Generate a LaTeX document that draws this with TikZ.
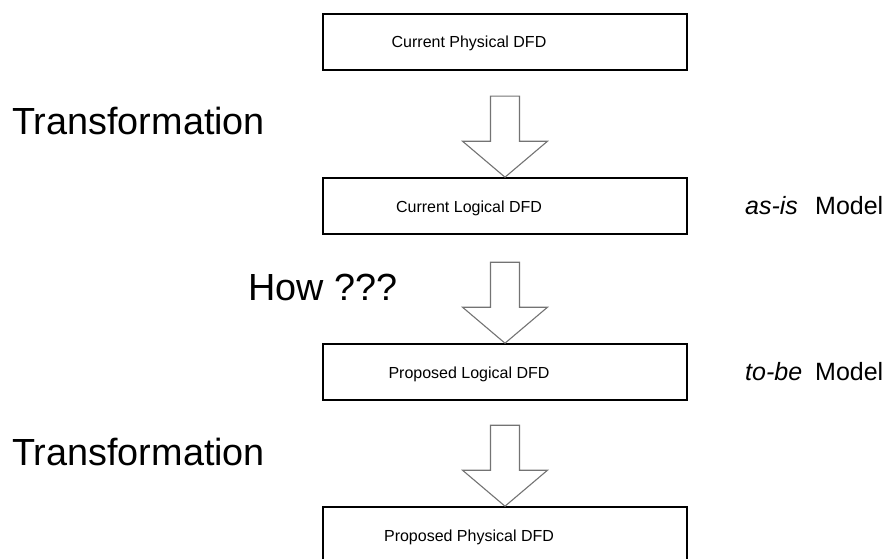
\documentclass[tikz,border=0pt]{standalone}
\usepackage{fontspec}
\setmainfont{Liberation Sans}
\begin{document}
\begin{tikzpicture}[x=1pt,y=-1pt,
  dfdbox/.style={draw=black, line width=1.6pt, minimum width=364pt, minimum height=56pt, inner sep=0pt},
  boxlabel/.style={anchor=base, inner sep=0pt, font=\fontsize{16}{19}\selectfont},
  sidelabel/.style={anchor=base west, inner sep=0pt, font=\fontsize{37.8}{44}\selectfont},
  modellabel/.style={anchor=base west, inner sep=0pt, font=\fontsize{25}{29}\selectfont},
  blockarrow/.pic={
    \draw[draw=black!55, line width=1.1pt, line join=miter]
      (-14.5,-81) -- (14.5,-81) -- (14.5,-36) -- (42.5,-36) -- (0,0)
      -- (-42.5,-36) -- (-14.5,-36) -- cycle;
  }]
  \useasboundingbox (0,0) rectangle (888,559);

  % the four DFD stages
  \node[dfdbox] (b1) at (505,42) {};
  \node[dfdbox] (b2) at (505,206) {};
  \node[dfdbox] (b3) at (505,372) {};
  \node[dfdbox] (b4) at (505,535) {};

  \node[boxlabel] (t1) at ([xshift=-36pt,yshift=-6pt]b1.center) {Current Physical DFD};
  \node[boxlabel] (t2) at ([xshift=-36pt,yshift=-6pt]b2.center) {Current Logical DFD};
  \node[boxlabel] (t3) at ([xshift=-36pt,yshift=-6pt]b3.center) {Proposed Logical DFD};
  \node[boxlabel] (t4) at ([xshift=-36pt,yshift=-6pt]b4.center) {Proposed Physical DFD};

  % hollow block arrows between the stages
  \pic at (b2.north) {blockarrow};
  \pic at (b3.north) {blockarrow};
  \pic at (b4.north) {blockarrow};

  % step labels on the left
  \node[sidelabel] (s1) at (12,135) {Transformation};
  \node[sidelabel] (s2) at (248,300) {How ???};
  \node[sidelabel] (s3) at (12,465) {Transformation};

  % model labels on the right
  \node[modellabel] (m1) at (745,214) {\textit{as-is}};
  \node[modellabel] (m1b) at (815,214) {Model};
  \node[modellabel] (m2) at (745,380) {\textit{to-be}};
  \node[modellabel] (m2b) at (815,380) {Model};
\end{tikzpicture}
\end{document}
